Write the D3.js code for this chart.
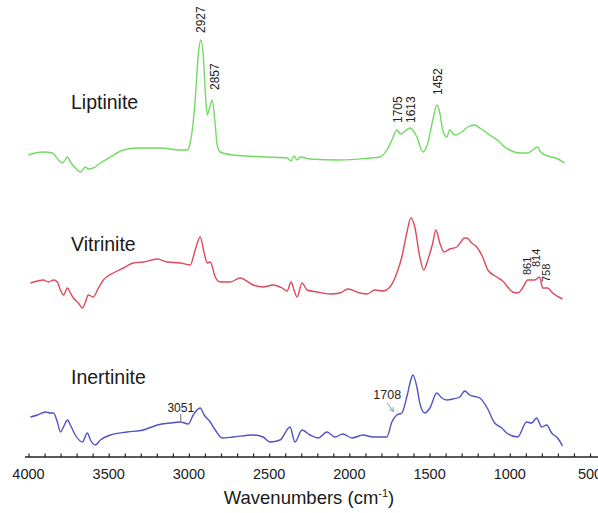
<!DOCTYPE html>
<html>
<head>
<meta charset="utf-8">
<script src="https://cdn.jsdelivr.net/npm/d3@7"></script>
<style>
  html, body { margin: 0; padding: 0; background: #fff; }
  svg { display: block; font-family: "Liberation Sans", Arial, Helvetica, sans-serif; }
</style>
</head>
<body>
<svg id="chart" width="598" height="513"></svg>
<script>
// ---------- DATA ----------
const seriesNames = ["Liptinite", "Vitrinite", "Inertinite"];
const seriesColors = ["#6fdc5f", "#dc4a5c", "#5252c8"];
const seriesOffsets = [2.95, 1.60, 0.13];   // vertical stacking offsets (a.u.)

const liptiniteWn = [4000,3956,3907,3851,3813,3788,3757,3739,3708,3676,3645,3627,3596,3552,3490,3409,3322,3179,3054,3011,2992,2979,2961,2942,2927,2911,2899,2886,2867,2855,2836,2824,2805,2724,2513,2388,2363,2345,2326,2307,2245,2058,1872,1810,1766,1735,1704,1679,1654,1623,1579,1542,1511,1480,1455,1436,1418,1393,1374,1343,1299,1262,1218,1187,1125,1063,1032,1001,938,889,857,826,808,764,714,658];
const liptiniteAbs = [0.10,0.12,0.13,0.12,0.05,0.02,0.08,0.03,-0.03,-0.07,-0.02,-0.04,-0.03,0.02,0.08,0.15,0.17,0.17,0.15,0.15,0.22,0.35,0.65,1.10,1.25,1.10,0.75,0.50,0.60,0.65,0.40,0.20,0.13,0.10,0.08,0.07,0.04,0.09,0.05,0.08,0.06,0.05,0.07,0.08,0.15,0.25,0.35,0.31,0.34,0.37,0.28,0.13,0.22,0.45,0.60,0.52,0.35,0.28,0.35,0.30,0.33,0.38,0.40,0.37,0.30,0.23,0.18,0.15,0.12,0.12,0.15,0.18,0.13,0.09,0.07,0.02];

const vitriniteWn = [3988,3944,3907,3876,3844,3820,3801,3782,3757,3739,3720,3689,3664,3645,3627,3596,3564,3533,3471,3409,3347,3284,3197,3135,3054,2992,2961,2930,2905,2886,2867,2836,2805,2743,2681,2600,2538,2475,2419,2388,2363,2345,2326,2295,2264,2202,2121,2058,2009,1934,1890,1841,1791,1747,1704,1673,1642,1617,1592,1561,1536,1511,1480,1461,1436,1411,1374,1330,1281,1268,1237,1206,1169,1137,1081,1044,982,951,920,889,845,814,795,764,733,671];
const vitriniteAbs = [0.17,0.19,0.20,0.18,0.20,0.18,0.10,0.05,0.12,0.07,0.02,-0.03,-0.08,-0.02,0.05,0.03,0.12,0.20,0.27,0.32,0.37,0.38,0.41,0.38,0.37,0.35,0.50,0.63,0.47,0.37,0.38,0.23,0.18,0.18,0.22,0.15,0.13,0.15,0.12,0.09,0.18,0.10,0.03,0.17,0.10,0.08,0.06,0.07,0.11,0.07,0.06,0.10,0.09,0.13,0.27,0.43,0.67,0.82,0.73,0.43,0.30,0.40,0.57,0.70,0.57,0.48,0.51,0.53,0.62,0.62,0.57,0.53,0.43,0.30,0.23,0.19,0.08,0.07,0.12,0.20,0.20,0.23,0.12,0.12,0.07,0.01];

const inertiniteWn = [3988,3944,3894,3863,3844,3820,3801,3782,3757,3739,3708,3664,3633,3614,3583,3552,3490,3384,3284,3197,3116,3054,3004,2973,2930,2905,2867,2836,2793,2724,2600,2538,2494,2432,2370,2339,2295,2245,2195,2139,2090,2040,1984,1915,1853,1766,1735,1704,1673,1642,1617,1604,1579,1561,1530,1498,1455,1424,1393,1355,1312,1281,1250,1187,1144,1094,1050,1019,951,895,864,833,801,770,739,702,671];
const inertiniteAbs = [0.30,0.32,0.35,0.34,0.34,0.25,0.15,0.20,0.27,0.22,0.12,0.05,0.14,0.07,0.02,0.07,0.12,0.15,0.17,0.22,0.24,0.25,0.23,0.32,0.39,0.32,0.25,0.17,0.09,0.10,0.12,0.10,0.05,0.07,0.20,0.05,0.17,0.12,0.09,0.15,0.10,0.13,0.09,0.12,0.10,0.10,0.25,0.32,0.34,0.50,0.67,0.72,0.60,0.44,0.34,0.39,0.54,0.49,0.47,0.48,0.50,0.56,0.52,0.49,0.40,0.24,0.19,0.14,0.10,0.25,0.24,0.29,0.20,0.22,0.14,0.09,0.01];

const tickValues = [4000, 3500, 3000, 2500, 2000, 1500, 1000, 500];
const minorTickStep = 100;

// peak annotations
const vertLabels = [
  { series: 0, text: "2927", wn: 2927 },
  { series: 0, text: "2857", wn: 2857 },
  { series: 0, text: "1705", wn: 1705 },
  { series: 0, text: "1613", wn: 1613 },
  { series: 0, text: "1452", wn: 1452 },
  { series: 1, text: "861", wn: 861 },
  { series: 1, text: "814", wn: 814 },
  { series: 1, text: "758", wn: 758 }
];
const horizLabels = [
  { series: 2, text: "3051", wn: 3051, arrow: false },
  { series: 2, text: "1708", wn: 1708, arrow: true }
];

// ---------- LAYOUT ----------
const W = 598, H = 513;
const axisY = 457;
const vertLabelLayout = [
  { dx: 0, bottom: 33 }, { dx: 3, bottom: 90 }, { dx: 1, bottom: 123 },
  { dx: -1, bottom: 123 }, { dx: 1, bottom: 95 }, { dx: -5, bottom: 275 },
  { dx: -3, bottom: 267 }, { dx: -2, bottom: 282 }
];
const seriesLabelY = [109, 251, 384];

const svg = d3.select("#chart");

const x = d3.scaleLinear().domain([4000, 500]).range([28.5, 590]);
const y = d3.scaleLinear().domain([0, 4.6]).range([460, 0]);

const seriesData = [
  d3.zip(liptiniteWn, liptiniteAbs),
  d3.zip(vitriniteWn, vitriniteAbs),
  d3.zip(inertiniteWn, inertiniteAbs)
];

const line = d3.line().curve(d3.curveMonotoneX);

seriesData.forEach((d, i) => {
  const pts = d.map(([w, a]) => [x(w), y(a + seriesOffsets[i])]);
  svg.append("path")
    .attr("d", line(pts))
    .attr("fill", "none")
    .attr("stroke", seriesColors[i])
    .attr("stroke-width", 1.4)
    .attr("stroke-linejoin", "round");
});

// series labels
seriesNames.forEach((n, i) => {
  svg.append("text")
    .attr("x", 71)
    .attr("y", seriesLabelY[i])
    .attr("font-size", 19.5)
    .attr("fill", "#1a1a1a")
    .text(n);
});

// vertical peak labels
vertLabels.forEach((l, i) => {
  const lay = vertLabelLayout[i];
  const fs = l.series === 0 ? 12 : 11;
  svg.append("text")
    .attr("transform", `translate(${x(l.wn) + lay.dx},${lay.bottom}) rotate(-90)`)
    .attr("dy", "0.35em")
    .attr("font-size", fs)
    .attr("fill", "#222")
    .text(l.text);
});

// horizontal labels on inertinite
const label3051 = horizLabels[0];
svg.append("text")
  .attr("x", x(label3051.wn))
  .attr("y", 412)
  .attr("text-anchor", "middle")
  .attr("font-size", 12)
  .attr("fill", "#222")
  .text(label3051.text);
svg.append("line")
  .attr("x1", x(label3051.wn)).attr("x2", x(label3051.wn))
  .attr("y1", 414).attr("y2", 421)
  .attr("stroke", "#444").attr("stroke-width", 0.8);

const label1708 = horizLabels[1];
svg.append("text")
  .attr("x", x(label1708.wn) - 9)
  .attr("y", 399)
  .attr("text-anchor", "middle")
  .attr("font-size", 12.5)
  .attr("fill", "#222")
  .text(label1708.text);
svg.append("defs").append("marker")
  .attr("id", "ah").attr("viewBox", "0 0 10 10")
  .attr("refX", 8).attr("refY", 5)
  .attr("markerWidth", 5).attr("markerHeight", 5)
  .attr("orient", "auto")
  .append("path").attr("d", "M0,0L10,5L0,10").attr("fill", "none")
  .attr("stroke", "#6aa8b0").attr("stroke-width", 1.6);
svg.append("line")
  .attr("x1", x(label1708.wn) - 9).attr("y1", 403)
  .attr("x2", x(label1708.wn) - 3).attr("y2", 411)
  .attr("stroke", "#6aa8b0").attr("stroke-width", 1)
  .attr("marker-end", "url(#ah)");

// axis
const minorTicks = d3.range(4000, 400, -minorTickStep);
const axisG = svg.append("g").attr("transform", `translate(0,${axisY})`);
axisG.call(d3.axisBottom(x).tickValues(minorTicks).tickSize(-3.5).tickSizeOuter(0).tickFormat(""));
axisG.select(".domain").attr("d", "M25,0H598").attr("stroke", "#222").attr("stroke-width", 1.6);
axisG.selectAll(".tick line").attr("stroke", "#222").attr("stroke-width", 1.2);
axisG.selectAll(".tick text").remove();

const labelsG = svg.append("g");
labelsG.selectAll("text").data(tickValues).join("text")
  .attr("x", d => x(d))
  .attr("y", 479)
  .attr("text-anchor", "middle")
  .attr("font-size", 14.5)
  .attr("fill", "#1a1a1a")
  .text(d => d);

const title = svg.append("text")
  .attr("x", 309)
  .attr("y", 504)
  .attr("text-anchor", "middle")
  .attr("font-size", 18.5)
  .attr("fill", "#1a1a1a");
title.append("tspan").text("Wavenumbers (cm");
title.append("tspan").attr("font-size", 11).attr("dy", -7).text("-1");
title.append("tspan").attr("dy", 7).text(")");
</script>
</body>
</html>
